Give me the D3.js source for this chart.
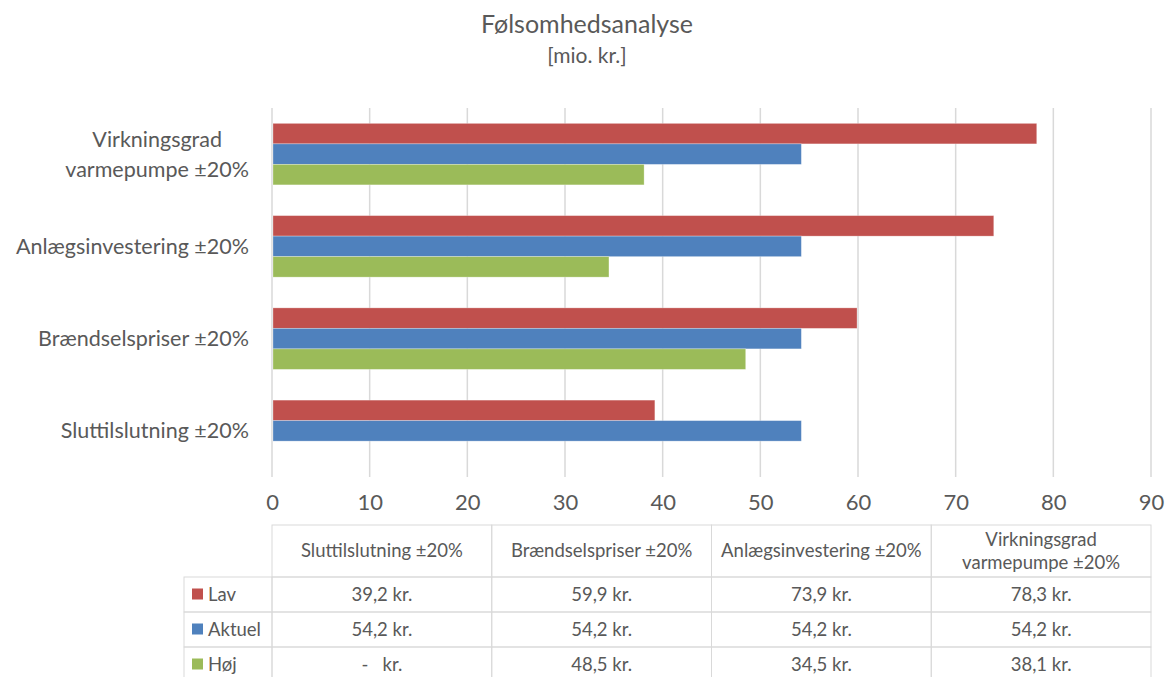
<!DOCTYPE html>
<html>
<head>
<meta charset="utf-8">
<script src="https://cdn.jsdelivr.net/npm/d3@7"></script>
<style>
  body { margin: 0; background: #fff; }
  svg { display: block; font-family: Lato, "Open Sans", sans-serif; }
</style>
</head>
<body>
<div id="chart"></div>
<script>
// data
const categories = ["Sluttilslutning ±20%", "Brændselspriser ±20%", "Anlægsinvestering ±20%", "Virkningsgrad varmepumpe ±20%"];
const categoryLines = [["Sluttilslutning ±20%"], ["Brændselspriser ±20%"], ["Anlægsinvestering ±20%"], ["Virkningsgrad", "varmepumpe ±20%"]];
const seriesNames = ["Lav", "Aktuel", "Høj"];
const lav = [39.2, 59.9, 73.9, 78.3];
const aktuel = [54.2, 54.2, 54.2, 54.2];
const hoj = [null, 48.5, 34.5, 38.1];
const xTicks = [0, 10, 20, 30, 40, 50, 60, 70, 80, 90];
const colors = ["#c0504d", "#4f81bd", "#9bbb59"];

(function () {
  const width = 1165;
  const height = 677;
  const plot = { left: 272, right: 1151, top: 108, bottom: 477 };
  const textColor = "#595959";
  const gridColor = "#d9d9d9";
  const values = [lav, aktuel, hoj];

  const data = categories.map((c, i) => ({
    cat: c,
    lines: categoryLines[i],
    vals: seriesNames.map((s, j) => ({ key: s, value: values[j][i] }))
  }));

  const svg = d3.select("#chart").append("svg")
    .attr("width", width)
    .attr("height", height);

  // title
  svg.append("text")
    .attr("x", 587).attr("y", 33)
    .attr("text-anchor", "middle")
    .attr("fill", textColor)
    .attr("font-size", "25px")
    .text("Følsomhedsanalyse");
  svg.append("text")
    .attr("x", 587).attr("y", 63)
    .attr("text-anchor", "middle")
    .attr("fill", textColor)
    .attr("font-size", "21px")
    .text("[mio. kr.]");

  // scales
  const xScale = d3.scaleLinear().domain([0, 90]).range([plot.left, plot.right]);
  const yScale = d3.scaleBand()
    .domain(categories.slice().reverse())
    .range([plot.top, plot.bottom])
    .padding(0);
  const bw = yScale.bandwidth();
  const ySub = d3.scaleBand().domain(seriesNames).range([bw / 6, bw * 5 / 6]).padding(0);
  const color = d3.scaleOrdinal().domain(seriesNames).range(colors);

  // grid
  svg.append("g")
    .selectAll("line")
    .data(xTicks)
    .join("line")
    .attr("x1", d => xScale(d)).attr("x2", d => xScale(d))
    .attr("y1", plot.top).attr("y2", plot.bottom)
    .attr("stroke", gridColor)
    .attr("stroke-width", 1.5);

  // bars
  svg.append("g")
    .selectAll("g")
    .data(data)
    .join("g")
    .attr("transform", d => `translate(0,${yScale(d.cat)})`)
    .selectAll("rect")
    .data(d => d.vals.filter(v => v.value != null))
    .join("rect")
    .attr("x", xScale(0) + 1)
    .attr("y", d => ySub(d.key))
    .attr("width", d => xScale(d.value) - xScale(0) - 1)
    .attr("height", ySub.bandwidth())
    .attr("fill", d => color(d.key))
    .attr("stroke", "#ffffff")
    .attr("stroke-opacity", 0.35)
    .attr("stroke-width", 0.8);

  // x axis labels
  const xAxis = svg.append("g")
    .attr("transform", `translate(0,${plot.bottom})`)
    .call(d3.axisBottom(xScale).tickValues(xTicks).tickSize(0).tickPadding(17));
  xAxis.select(".domain").remove();
  xAxis.selectAll(".tick text")
    .attr("fill", textColor)
    .attr("font-size", "22px")
    .attr("font-family", "Lato, sans-serif");

  // category labels (block right-aligned, lines centred within it)
  const labelRight = 249;
  const catG = svg.append("g");
  data.forEach(d => {
    const cy = yScale(d.cat) + bw / 2;
    const n = d.lines.length;
    const t = catG.append("text")
      .attr("fill", textColor)
      .attr("font-size", "21.5px")
      .attr("text-anchor", "middle");
    d.lines.forEach((l, k) => {
      t.append("tspan")
        .attr("x", 0)
        .attr("y", cy + (k - (n - 1) / 2) * 30)
        .attr("dy", "0.35em")
        .text(l);
    });
    const w = d3.max(t.selectAll("tspan").nodes(), nd => nd.getComputedTextLength());
    t.selectAll("tspan").attr("x", labelRight - w / 2);
  });

  // data table
  const tbl = { top: 525, header: 577, row: 35, legendLeft: 184 };
  const colScale = d3.scaleBand().domain(categories).range([plot.left, plot.right]);
  const tg = svg.append("g").attr("font-size", "18.5px").attr("fill", textColor);

  // header cells
  categories.forEach((c, i) => {
    const x0 = colScale(c);
    tg.append("rect")
      .attr("x", x0).attr("y", tbl.top)
      .attr("width", colScale.bandwidth()).attr("height", tbl.header - tbl.top)
      .attr("fill", "none").attr("stroke", gridColor);
    const lines = categoryLines[i];
    const t = tg.append("text").attr("text-anchor", "middle");
    lines.forEach((l, k) => {
      t.append("tspan")
        .attr("x", x0 + colScale.bandwidth() / 2)
        .attr("y", (tbl.top + tbl.header) / 2 + (k - (lines.length - 1) / 2) * 23)
        .attr("dy", "0.35em")
        .text(l);
    });
  });

  // rows
  seriesNames.forEach((s, j) => {
    const y0 = tbl.header + j * tbl.row;
    tg.append("rect")
      .attr("x", tbl.legendLeft).attr("y", y0)
      .attr("width", plot.left - tbl.legendLeft).attr("height", tbl.row)
      .attr("fill", "none").attr("stroke", gridColor);
    tg.append("rect")
      .attr("x", tbl.legendLeft + 8).attr("y", y0 + tbl.row / 2 - 6)
      .attr("width", 11).attr("height", 11)
      .attr("fill", color(s));
    tg.append("text")
      .attr("x", tbl.legendLeft + 24).attr("y", y0 + tbl.row / 2)
      .attr("dy", "0.35em")
      .text(s);
    categories.forEach((c, i) => {
      const v = values[j][i];
      tg.append("rect")
        .attr("x", colScale(c)).attr("y", y0)
        .attr("width", colScale.bandwidth()).attr("height", tbl.row)
        .attr("fill", "none").attr("stroke", gridColor);
      tg.append("text")
        .attr("x", colScale(c) + colScale.bandwidth() / 2)
        .attr("y", y0 + tbl.row / 2)
        .attr("dy", "0.35em")
        .attr("text-anchor", "middle")
        .attr("xml:space", "preserve")
        .style("white-space", "pre")
        .text(v == null ? "-   kr." : d3.format(".1f")(v).replace(".", ",") + " kr.");
    });
  });
})();
</script>
</body>
</html>
